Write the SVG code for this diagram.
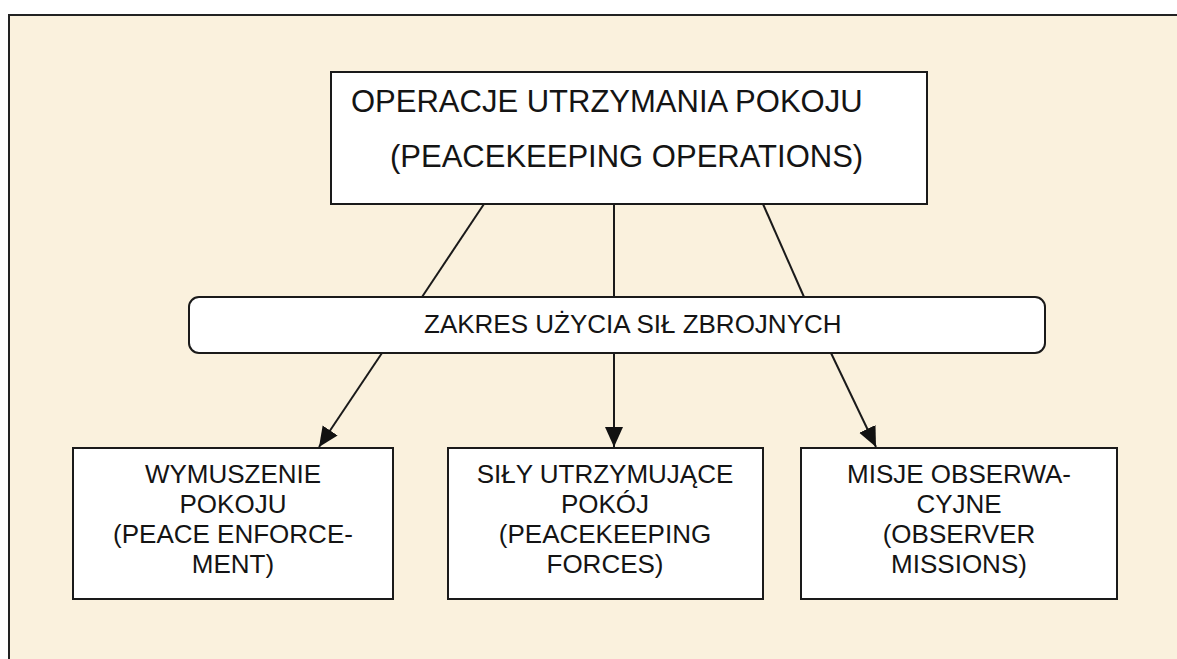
<svg xmlns="http://www.w3.org/2000/svg" width="1177" height="659" viewBox="0 0 1177 659">
<defs>
<marker id="arr" viewBox="0 0 20 20" refX="20" refY="10" markerWidth="20" markerHeight="20" markerUnits="userSpaceOnUse" orient="auto">
<path d="M0,1 L20,10 L0,19 Z" fill="#111"/>
</marker>
</defs>
<style>
.box{fill:#ffffff;stroke:#1a1a1a;stroke-width:2}
.t{font-family:"Liberation Sans",Arial,sans-serif;fill:#141414}
.big{font-size:31px}
.mid{font-size:26px}
.sm{font-size:26px;text-anchor:middle}
.ln{stroke:#1a1a1a;stroke-width:2;fill:none}
</style>
<rect x="0" y="0" width="1177" height="659" fill="#ffffff"/>
<rect id="frame" x="9" y="15" width="1200" height="700" fill="#faf1dd" stroke="#222" stroke-width="2"/>
<g id="connectors">
<line class="ln" x1="484" y1="204" x2="422" y2="297"/>
<line class="ln" x1="614" y1="204" x2="614" y2="297"/>
<line class="ln" x1="763" y1="204" x2="804" y2="297"/>
<line class="ln" x1="382" y1="353" x2="319" y2="447" marker-end="url(#arr)"/>
<line class="ln" x1="614" y1="353" x2="614" y2="447" marker-end="url(#arr)"/>
<line class="ln" x1="831" y1="353" x2="876" y2="447" marker-end="url(#arr)"/>
</g>
<g id="top">
<rect class="box" x="331" y="72" width="596" height="132"/>
<text class="t big" x="351" y="112">OPERACJE UTRZYMANIA POKOJU</text>
<text class="t big" x="390" y="167">(PEACEKEEPING OPERATIONS)</text>
</g>
<g id="scope">
<rect class="box" x="189" y="297" width="856" height="56" rx="10" ry="10"/>
<text class="t mid" x="424" y="333">ZAKRES UŻYCIA SIŁ ZBROJNYCH</text>
</g>
<g id="enforcement">
<rect class="box" x="73" y="448" width="320" height="151"/>
<text class="t sm" x="233" y="483">WYMUSZENIE</text>
<text class="t sm" x="233" y="513">POKOJU</text>
<text class="t sm" x="233" y="543">(PEACE ENFORCE-</text>
<text class="t sm" x="233" y="573">MENT)</text>
</g>
<g id="forces">
<rect class="box" x="448" y="448" width="315" height="151"/>
<text class="t sm" x="605" y="483">SIŁY UTRZYMUJĄCE</text>
<text class="t sm" x="605" y="513">POKÓJ</text>
<text class="t sm" x="605" y="543">(PEACEKEEPING</text>
<text class="t sm" x="605" y="573">FORCES)</text>
</g>
<g id="observer">
<rect class="box" x="801" y="448" width="316" height="151"/>
<text class="t sm" x="959" y="483">MISJE OBSERWA-</text>
<text class="t sm" x="959" y="513">CYJNE</text>
<text class="t sm" x="959" y="543">(OBSERVER</text>
<text class="t sm" x="959" y="573">MISSIONS)</text>
</g>
</svg>
